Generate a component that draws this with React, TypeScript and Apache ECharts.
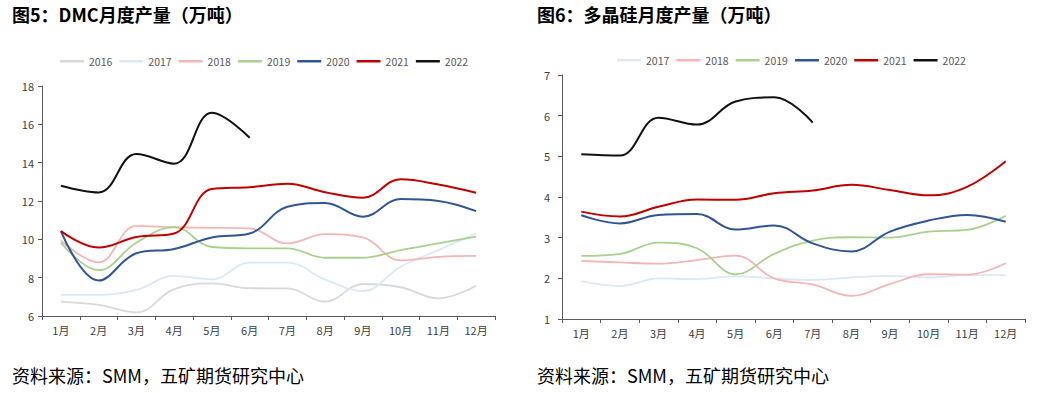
import React, { useEffect, useRef } from "react";
import * as echarts from "echarts";

const months = ["1月", "2月", "3月", "4月", "5月", "6月", "7月", "8月", "9月", "10月", "11月", "12月"];

// DMC monthly output (10k tonnes)
const dmcYears = ["2016", "2017", "2018", "2019", "2020", "2021", "2022"];
const dmc2016 = [6.75, 6.58, 6.19, 7.4, 7.7, 7.45, 7.44, 6.75, 7.67, 7.5, 6.92, 7.58];
const dmc2017 = [7.1, 7.1, 7.36, 8.09, 7.91, 8.78, 8.78, 7.91, 7.3, 8.57, 9.44, 10.3];
const dmc2018 = [9.93, 8.8, 10.7, 10.63, 10.6, 10.57, 9.79, 10.27, 10.1, 8.9, 9.09, 9.14];
const dmc2019 = [9.83, 8.39, 9.82, 10.64, 9.6, 9.53, 9.53, 9.04, 9.04, 9.44, 9.79, 10.14];
const dmc2020 = [10.43, 7.85, 9.27, 9.5, 10.1, 10.3, 11.7, 11.9, 11.18, 12.1, 12.0, 11.47];
const dmc2021 = [10.43, 9.57, 10.12, 10.3, 12.63, 12.72, 12.9, 12.46, 12.17, 13.13, 12.86, 12.43];
const dmc2022 = [12.8, 12.45, 14.45, 13.95, 16.6, 15.3];

// Polysilicon monthly output (10k tonnes)
const siYears = ["2017", "2018", "2019", "2020", "2021", "2022"];
const si2017 = [1.93, 1.81, 2.0, 1.98, 2.05, 2.0, 1.96, 2.02, 2.06, 2.02, 2.08, 2.08];
const si2018 = [2.43, 2.39, 2.36, 2.45, 2.56, 2.0, 1.85, 1.57, 1.86, 2.1, 2.09, 2.37];
const si2019 = [2.55, 2.6, 2.88, 2.74, 2.1, 2.6, 2.93, 3.01, 3.0, 3.15, 3.19, 3.54];
const si2020 = [3.55, 3.35, 3.56, 3.58, 3.2, 3.3, 2.86, 2.66, 3.15, 3.42, 3.56, 3.39];
const si2021 = [3.64, 3.52, 3.76, 3.94, 3.93, 4.09, 4.16, 4.3, 4.17, 4.04, 4.25, 4.88];
const si2022 = [5.05, 5.02, 5.95, 5.78, 6.35, 6.45, 5.83];

const colors: Record<string, string> = {
  "2016": "#d9d9d9",
  "2017": "#dbe8f7",
  "2018": "#f4b5b5",
  "2019": "#a9d18e",
  "2020": "#2f5597",
  "2021": "#c00000",
  "2022": "#111111",
};

const dmcData = [dmc2016, dmc2017, dmc2018, dmc2019, dmc2020, dmc2021, dmc2022];
const siData = [si2017, si2018, si2019, si2020, si2021, si2022];

const FONT = "'Noto Sans CJK SC', 'Noto Sans', sans-serif";

export default function App() {
  const ref = useRef<HTMLDivElement>(null);
  useEffect(() => {
    if (!ref.current) return;
    const chart = echarts.init(ref.current, null, { renderer: "svg" });
    const axisLine = { lineStyle: { color: "#595959", width: 1 } };
    const mkX = (gridIndex: number) => ({
      type: "category",
      gridIndex,
      data: months,
      boundaryGap: true,
      axisLine,
      axisTick: { show: true, length: 4, lineStyle: { color: "#595959" } },
      axisLabel: { color: "#404040", fontSize: 11, fontFamily: FONT, margin: 8 },
      splitLine: { show: false },
    });
    const mkY = (gridIndex: number, min: number, max: number, interval: number, margin: number) => ({
      type: "value",
      gridIndex,
      min,
      max,
      interval,
      axisLine: { show: true, ...axisLine },
      axisTick: { show: true, length: 4, lineStyle: { color: "#595959" } },
      axisLabel: { color: "#404040", fontSize: 11, fontFamily: FONT, margin },
      splitLine: { show: false },
    });
    const mkSeries = (name: string, data: number[], idx: number) => ({
      type: "line",
      name,
      data,
      xAxisIndex: idx,
      yAxisIndex: idx,
      smooth: 0.4,
      showSymbol: false,
      symbol: "none",
      lineStyle: { color: colors[name], width: name === "2016" || name === "2017" || name === "2018" || name === "2019" ? 1.8 : 2 },
      itemStyle: { color: colors[name] },
    });
    const legendBase = {
      icon: "rect",
      itemWidth: 24,
      itemHeight: 2.5,
      itemGap: 7,
      padding: 0,
      textStyle: { color: "#595959", fontSize: 10.5, fontFamily: FONT },
    };
    const titleText = { fontSize: 18, fontWeight: "bold", color: "#000", fontFamily: FONT };
    const footText = { fontSize: 18, fontWeight: "normal", color: "#000", fontFamily: FONT };
    chart.setOption({
      animation: false,
      title: [
        { text: "图5：DMC月度产量（万吨）", left: 12, top: 5, padding: 0, textStyle: titleText },
        { text: "图6：多晶硅月度产量（万吨）", left: 537, top: 5, padding: 0, textStyle: titleText },
        { text: "资料来源：SMM，五矿期货研究中心", left: 12, top: 366, padding: 0, textStyle: footText },
        { text: "资料来源：SMM，五矿期货研究中心", left: 537, top: 366, padding: 0, textStyle: footText },
      ],
      legend: [
        { ...legendBase, left: 60, top: 56, data: dmcYears },
        { ...legendBase, left: 617, top: 55, data: siYears },
      ],
      grid: [
        { left: 42, top: 86, width: 453, height: 230, containLabel: false },
        { left: 562, top: 75, width: 463, height: 244, containLabel: false },
      ],
      xAxis: [mkX(0), mkX(1)],
      yAxis: [mkY(0, 6, 18, 2, 8), mkY(1, 1, 7, 1, 12)],
      series: [
        ...dmcYears.map((y, i) => mkSeries(y, dmcData[i], 0)),
        ...siYears.map((y, i) => mkSeries(y, siData[i], 1)),
      ],
    });
    return () => chart.dispose();
  }, []);
  return (
    <div
      ref={ref}
      style={{ position: "absolute", left: 0, top: 0, width: 1045, height: 393, background: "#fff" }}
    />
  );
}
